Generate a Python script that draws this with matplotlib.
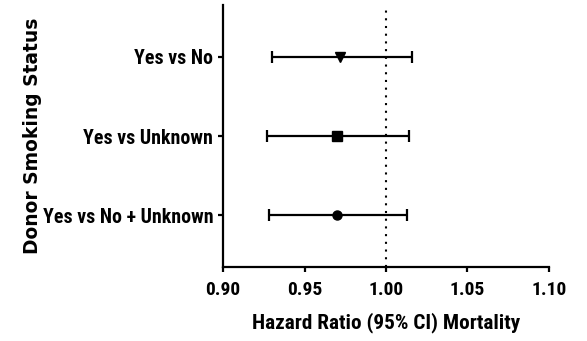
import numpy as np
import matplotlib.pyplot as plt

plt.rcParams['font.family'] = ['Roboto Condensed', 'Liberation Sans', 'DejaVu Sans']
plt.rcParams['font.weight'] = 'bold'

# hazard ratios with 95% CI, top to bottom
comparisons = ["Yes vs No", "Yes vs Unknown", "Yes vs No + Unknown"]
hr = [0.972, 0.970, 0.970]
ci_low = [0.930, 0.927, 0.928]
ci_high = [1.016, 1.014, 1.013]
markers = ["v", "s", "o"]
marker_sizes = [7, 7, 6.5]

x_ticks = [0.90, 0.95, 1.00, 1.05, 1.10]

fig = plt.figure(figsize=(5.87, 3.41), dpi=100)
ax = fig.add_axes([0.380, 0.217, 0.555, 0.768])

ypos = np.arange(len(comparisons))[::-1] + 1
for y, h, lo, hi, m, ms in zip(ypos, hr, ci_low, ci_high, markers, marker_sizes):
    ax.errorbar(h, y, xerr=[[h - lo], [hi - h]], fmt=m, color="black",
                ecolor="black", elinewidth=1.6, capsize=4, capthick=1.6,
                markersize=ms)

ax.axvline(1.0, color="black", linestyle=(0, (1, 2.7)), linewidth=1.5)

ax.set_xlim(0.90, 1.10)
ax.set_ylim(0.35, 3.65)
ax.set_xticks(x_ticks)
ax.set_xticklabels([f"{t:.2f}" for t in x_ticks])
ax.set_yticks(ypos)
ax.set_yticklabels(comparisons)

for s in ["top", "right"]:
    ax.spines[s].set_visible(False)
for s in ["left", "bottom"]:
    ax.spines[s].set_linewidth(1.6)
ax.tick_params(width=1.6, length=3.6, labelsize=14)
ax.tick_params(axis="x", pad=6.5)
ax.tick_params(axis="y", pad=3.5, labelsize=14.3)

ax.set_xlabel("Hazard Ratio (95% CI) Mortality", fontsize=15.3,
              fontweight="bold", labelpad=9.5)
ax.set_ylabel("Donor Smoking Status", fontsize=13.4, fontweight="bold",
              family=['DejaVu Sans'])
ax.yaxis.set_label_coords(-0.556, 0.5)

fig.savefig("out.png", dpi=100)
